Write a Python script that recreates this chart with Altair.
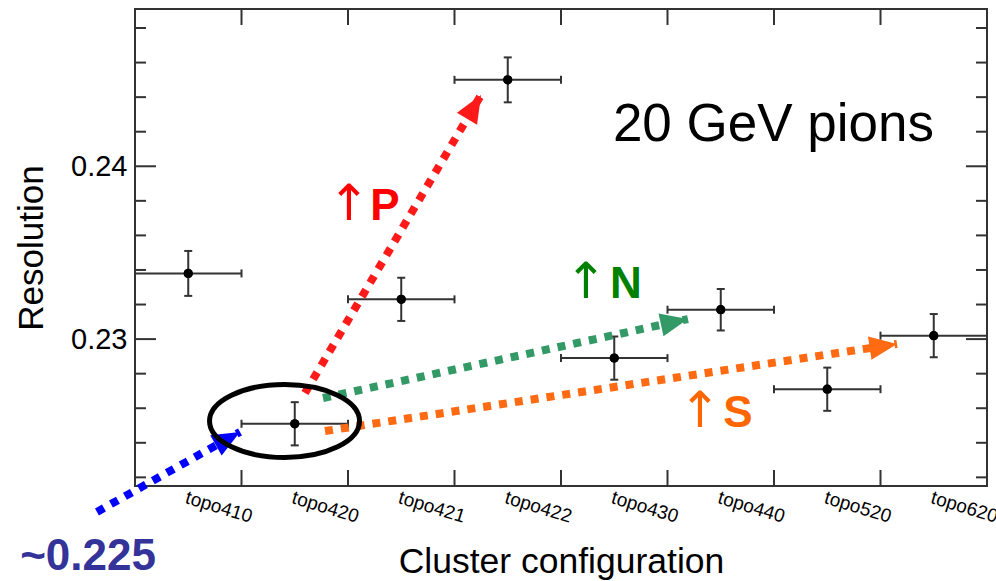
import json
import math
import altair as alt
import pandas as pd

# ---------------- data ----------------
configs = ["topo410", "topo420", "topo421", "topo422", "topo430", "topo440", "topo520", "topo620"]
resolution = [0.2338, 0.2251, 0.2323, 0.2450, 0.2289, 0.2317, 0.2271, 0.2302]
res_err = [0.0013, 0.00125, 0.00125, 0.0013, 0.00125, 0.0012, 0.00125, 0.00125]

y_major = [0.23, 0.24]
y_minor = [0.222, 0.224, 0.226, 0.228, 0.232, 0.234, 0.236, 0.238, 0.242, 0.244, 0.246, 0.248]
x_bounds = [0.5, 1.5, 2.5, 3.5, 4.5, 5.5, 6.5]

# arrows (data coordinates: x = configuration index, y = resolution)
arrow_names = ["P", "N", "S", "base"]
arrow_colors = ["#ff1a1a", "#339966", "#ff6a13", "#0000ff"]
arrow_x0 = [1.096, 1.265, 1.284, -0.857]
arrow_y0 = [0.22688, 0.22659, 0.22468, 0.22000]
arrow_x1 = [2.749, 4.692, 6.655, 0.486]
arrow_y1 = [0.24412, 0.23116, 0.22972, 0.22463]

# annotation texts
sym_text = ["↑", "↑", "↑"]
sym_x = [1.509, 3.735, 4.805]
sym_y = [0.23689, 0.23238, 0.22491]
sym_color = ["#ff0000", "#008000", "#ff6600"]

letter_text = ["P", "N", "S", "~0.225"]
letter_x = [1.847, 4.110, 5.162, -0.941]
letter_y = [0.23689, 0.23238, 0.22491, 0.21664]
letter_color = ["#ff0000", "#008000", "#ff6600", "#333399"]

title_text = ["20 GeV pions"]
title_x = [5.495]
title_y = [0.24146]

ellipse_x = [0.904]
ellipse_y = [0.22526]

# ---------------- layout ----------------
W, H = 852, 477
X_DOMAIN = [-0.5, 7.5]
Y_DOMAIN = [0.2215, 0.2491]
FONT = "Liberation Sans"
INK = "#333333"

XS = alt.Scale(domain=X_DOMAIN, nice=False, zero=False)
YS = alt.Scale(domain=Y_DOMAIN, nice=False, zero=False)

label_expr = json.dumps(configs) + "[round(datum.value)]"
XAXIS = alt.Axis(values=list(range(len(configs))), labelExpr=label_expr,
                 labelAngle=17, labelAlign="left", labelBaseline="top",
                 labelPadding=2, labelFontSize=19, labelColor="black",
                 labelFont=FONT, labelOverlap=False, labelBound=False,
                 ticks=False, domain=False, grid=False,
                 title="Cluster configuration", titleFont=FONT, titleFontSize=35.5,
                 titleFontWeight="normal", titleColor="black",
                 titleY=86, titleBaseline="alphabetic")
YAXIS = alt.Axis(values=y_major, format=".2f", labelFontSize=29, labelFont=FONT,
                 labelColor="black", labelPadding=8, ticks=False, domain=False,
                 grid=False, title="Resolution", titleFont=FONT, titleFontSize=35,
                 titleFontWeight="normal", titleColor="black",
                 titleX=-93, titleY=H / 2, titleAngle=270, titleBaseline="alphabetic",
                 titleAlign="center")


def xenc(field):
    return alt.X(field, type="quantitative", scale=XS, axis=XAXIS)


def yenc(field):
    return alt.Y(field, type="quantitative", scale=YS, axis=YAXIS)


df = pd.DataFrame({
    "config": configs,
    "idx": list(range(len(configs))),
    "value": resolution,
    "err": res_err,
})
df["lo"] = df["value"] - df["err"]
df["hi"] = df["value"] + df["err"]
df["xlo"] = df["idx"] - 0.5
df["xhi"] = df["idx"] + 0.5

base = alt.Chart(df)

hbar = base.mark_rule(color=INK, strokeWidth=2).encode(
    x=xenc("xlo"), x2=alt.X2("xhi"), y=yenc("value"))
vbar = base.mark_rule(color=INK, strokeWidth=2).encode(
    x=xenc("idx"), y=yenc("lo"), y2=alt.Y2("hi"))
cap_lo = base.mark_tick(orient="horizontal", size=8, thickness=2, color=INK, opacity=1).encode(
    x=xenc("idx"), y=yenc("lo"))
cap_hi = base.mark_tick(orient="horizontal", size=8, thickness=2, color=INK, opacity=1).encode(
    x=xenc("idx"), y=yenc("hi"))
cap_l = base.mark_tick(orient="vertical", size=8, thickness=2, color=INK, opacity=1).encode(
    x=xenc("xlo"), y=yenc("value"))
cap_r = base.mark_tick(orient="vertical", size=8, thickness=2, color=INK, opacity=1).encode(
    x=xenc("xhi"), y=yenc("value"))
pts = base.mark_point(filled=True, size=85, color="black", opacity=1).encode(
    x=xenc("idx"), y=yenc("value"))

# ---- inward ticks on all four sides ----
dminor = pd.DataFrame({"v": y_minor})
dmajor = pd.DataFrame({"v": y_major})
dxb = pd.DataFrame({"v": x_bounds})
tick_layers = [
    alt.Chart(dminor).mark_rule(color=INK, strokeWidth=2).encode(
        y=yenc("v"), x=alt.value(0), x2=alt.value(11)),
    alt.Chart(dmajor).mark_rule(color=INK, strokeWidth=2).encode(
        y=yenc("v"), x=alt.value(0), x2=alt.value(21)),
    alt.Chart(dminor).mark_rule(color=INK, strokeWidth=2).encode(
        y=yenc("v"), x=alt.value(W - 11), x2=alt.value(W)),
    alt.Chart(dmajor).mark_rule(color=INK, strokeWidth=2).encode(
        y=yenc("v"), x=alt.value(W - 21), x2=alt.value(W)),
    alt.Chart(dxb).mark_rule(color=INK, strokeWidth=2).encode(
        x=xenc("v"), y=alt.value(H - 16), y2=alt.value(H)),
    alt.Chart(dxb).mark_rule(color=INK, strokeWidth=2).encode(
        x=xenc("v"), y=alt.value(0), y2=alt.value(16)),
]

# ---- dotted arrows ----
px_x = W / (X_DOMAIN[1] - X_DOMAIN[0])
px_y = H / (Y_DOMAIN[1] - Y_DOMAIN[0])
rows = []
heads = []
for n, c, x0, y0, x1, y1 in zip(arrow_names, arrow_colors, arrow_x0, arrow_y0, arrow_x1, arrow_y1):
    rows.append({"arrow": n, "order": 0, "ax": x0, "ay": y0, "c": c})
    rows.append({"arrow": n, "order": 1, "ax": x1, "ay": y1, "c": c})
    ang = math.degrees(math.atan2((x1 - x0) * px_x, (y1 - y0) * px_y))
    heads.append({"arrow": n, "ax": x1, "ay": y1, "c": c, "ang": ang})
darrow = pd.DataFrame(rows)
dhead = pd.DataFrame(heads)

arrow_lines = alt.Chart(darrow).mark_line(strokeWidth=8, strokeDash=[8, 8], strokeCap="butt").encode(
    x=xenc("ax"), y=yenc("ay"), detail="arrow:N", order="order:Q",
    color=alt.Color("c:N", scale=None))
arrow_heads = alt.Chart(dhead).mark_point(
    shape="M 0 0 L 0.85 2 L -0.85 2 Z", filled=True, size=760, opacity=1, strokeWidth=0).encode(
    x=xenc("ax"), y=yenc("ay"), angle=alt.Angle("ang:Q", scale=None),
    color=alt.Color("c:N", scale=None))

# ---- ellipse around topo420 ----
dell = pd.DataFrame({"ex": ellipse_x, "ey": ellipse_y})
ellipse = alt.Chart(dell).mark_point(
    shape="M -1 0 A 1 0.487 0 1 0 1 0 A 1 0.487 0 1 0 -1 0 Z",
    filled=False, size=22500, stroke="black", strokeWidth=5, opacity=1).encode(
    x=xenc("ex"), y=yenc("ey"))

# ---- texts ----
dsym = pd.DataFrame({"t": sym_text, "tx": sym_x, "ty": sym_y, "c": sym_color})
syms = alt.Chart(dsym).mark_text(font="DejaVu Sans", fontSize=50, baseline="alphabetic",
                                 align="center").encode(
    x=xenc("tx"), y=yenc("ty"), text="t:N", color=alt.Color("c:N", scale=None))
dlet = pd.DataFrame({"t": letter_text, "tx": letter_x, "ty": letter_y, "c": letter_color})
letters = alt.Chart(dlet).mark_text(font=FONT, fontSize=44, fontWeight="bold",
                                    baseline="alphabetic", align="center").encode(
    x=xenc("tx"), y=yenc("ty"), text="t:N", color=alt.Color("c:N", scale=None))
dtit = pd.DataFrame({"t": title_text, "tx": title_x, "ty": title_y})
big = alt.Chart(dtit).mark_text(font=FONT, fontSize=53, baseline="alphabetic", align="center",
                                color="black").encode(
    x=xenc("tx"), y=yenc("ty"), text="t:N")

chart = alt.layer(
    pts, hbar, vbar, cap_lo, cap_hi, cap_l, cap_r, *tick_layers,
    arrow_lines, arrow_heads, ellipse, syms, letters, big, pts,
).properties(
    width=W, height=H,
    padding={"left": 135, "top": 9, "right": 9, "bottom": 95},
    autosize=alt.AutoSizeParams(type="none"),
    background="white",
).configure_view(stroke=INK, strokeWidth=2)

chart.save("out.html", embed_options={"renderer": "svg", "actions": False})
